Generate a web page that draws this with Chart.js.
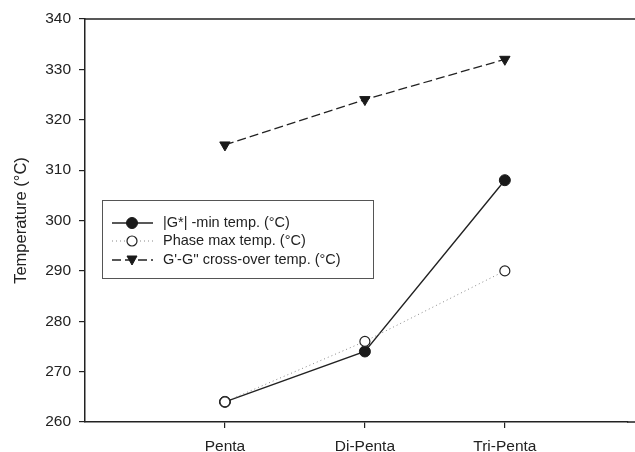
<!DOCTYPE html>
<html>
<head>
<meta charset="utf-8">
<script src="https://cdn.jsdelivr.net/npm/chart.js@4.4.1/dist/chart.umd.min.js"></script>
<style>
  html, body { margin: 0; padding: 0; background: #fff; }
  #wrap { width: 635px; height: 452px; }
</style>
</head>
<body>
<div id="wrap"><canvas id="tempChart" width="635" height="452"></canvas></div>
<script>
var categories = ['Penta', 'Di-Penta', 'Tri-Penta'];
var categoryPos = [1, 2, 3];
var gStarMin = [264, 274, 308];
var phaseMax = [264, 276, 290];
var crossOver = [315, 324, 332];
var yTicks = [260, 270, 280, 290, 300, 310, 320, 330, 340];

var FONT = "'Liberation Sans', Arial, Helvetica, sans-serif";
var INK = '#222';

function pts(vals) {
  return vals.map(function (v, i) { return { x: categoryPos[i], y: v }; });
}

// legend drawn inside the plot, like the original
var boxLegend = {
  id: 'boxLegend',
  afterDatasetsDraw: function (chart) {
    var ctx = chart.ctx;
    var x0 = 102, y0 = 200, w = 271, h = 78;
    ctx.save();
    ctx.fillStyle = '#fff';
    ctx.fillRect(x0, y0, w, h);
    ctx.strokeStyle = '#555';
    ctx.lineWidth = 1;
    ctx.strokeRect(x0 + 0.5, y0 + 0.5, w, h);
    var rows = [223, 241, 260];
    chart.data.datasets.forEach(function (ds, r) {
      var y = rows[r];
      ctx.beginPath();
      ctx.setLineDash(ds.borderDash || []);
      ctx.strokeStyle = ds.borderColor;
      ctx.lineWidth = ds.borderWidth;
      ctx.moveTo(112, y);
      ctx.lineTo(153, y);
      ctx.stroke();
      ctx.setLineDash([]);
      ctx.fillStyle = ds.pointBackgroundColor;
      ctx.strokeStyle = ds.pointBorderColor;
      ctx.lineWidth = ds.pointBorderWidth;
      ctx.beginPath();
      if (ds.pointStyle === 'circle') {
        ctx.arc(132, y, ds.pointRadius, 0, Math.PI * 2);
      } else {
        var s = 5;
        ctx.moveTo(132 - s, y - 4);
        ctx.lineTo(132 + s, y - 4);
        ctx.lineTo(132, y + 5);
        ctx.closePath();
      }
      ctx.fill();
      ctx.stroke();
      ctx.fillStyle = INK;
      ctx.font = '14.5px ' + FONT;
      ctx.textBaseline = 'middle';
      ctx.textAlign = 'left';
      ctx.fillText(ds.label, 163, y);
    });
    // top frame line, and the axes run off the right edge
    var a = chart.chartArea;
    ctx.strokeStyle = INK;
    ctx.lineWidth = 1.5;
    ctx.beginPath();
    ctx.moveTo(a.left, a.top);
    ctx.lineTo(chart.width, a.top);
    ctx.moveTo(a.right - 1, a.bottom);
    ctx.lineTo(chart.width, a.bottom);
    ctx.stroke();
    ctx.restore();
  }
};

new Chart(document.getElementById('tempChart'), {
  type: 'line',
  data: {
    datasets: [{
      label: '|G*| -min temp. (°C)',
      data: pts(gStarMin),
      borderColor: '#222',
      borderWidth: 1.4,
      pointStyle: 'circle',
      pointRadius: 5.5,
      pointBackgroundColor: '#1a1a1a',
      pointBorderColor: '#1a1a1a',
      pointBorderWidth: 1,
      order: 2
    }, {
      label: 'Phase max temp. (°C)',
      data: pts(phaseMax),
      borderColor: '#888',
      borderWidth: 1,
      borderDash: [1, 3],
      pointStyle: 'circle',
      pointRadius: 5,
      pointBackgroundColor: '#fff',
      pointBorderColor: '#222',
      pointBorderWidth: 1.2,
      order: 1
    }, {
      label: "G'-G'' cross-over temp. (°C)",
      data: pts(crossOver),
      borderColor: '#222',
      borderWidth: 1.3,
      borderDash: [9, 4],
      pointStyle: 'triangle',
      pointRotation: 180,
      pointRadius: 6,
      pointBackgroundColor: '#1a1a1a',
      pointBorderColor: '#1a1a1a',
      pointBorderWidth: 1,
      order: 3
    }]
  },
  options: {
    responsive: false,
    animation: false,
    layout: { padding: { top: 19, right: 0, left: 0, bottom: 0 } },
    plugins: { legend: { display: false }, tooltip: { enabled: false } },
    scales: {
      x: {
        type: 'linear',
        min: 0,
        max: 3.88,
        afterBuildTicks: function (scale) {
          scale.ticks = categoryPos.map(function (v) { return { value: v }; });
        },
        afterFit: function (scale) {
          scale.height = 30;
          scale.paddingLeft = 0;
          scale.paddingRight = 0;
        },
        ticks: {
          callback: function (v) { return categories[categoryPos.indexOf(v)]; },
          color: INK,
          font: { family: FONT, size: 15.5 },
          padding: 9,
          maxRotation: 0
        },
        grid: { display: true, drawOnChartArea: false, drawTicks: true, tickLength: 6, color: INK, lineWidth: 1.2 },
        border: { display: true, color: INK, width: 1.5 }
      },
      y: {
        min: 260,
        max: 340,
        afterBuildTicks: function (scale) {
          scale.ticks = yTicks.map(function (v) { return { value: v }; });
        },
        afterFit: function (scale) { scale.width = 85; },
        title: {
          display: true,
          text: 'Temperature (°C)',
          color: INK,
          font: { family: FONT, size: 16.5 },
          padding: { top: 12, bottom: 0 }
        },
        ticks: {
          color: INK,
          font: { family: FONT, size: 15.5 },
          padding: 8
        },
        grid: { display: true, drawOnChartArea: false, drawTicks: true, tickLength: 6, color: INK, lineWidth: 1.2 },
        border: { display: true, color: INK, width: 1.5 }
      }
    }
  },
  plugins: [boxLegend]
});
</script>
</body>
</html>
